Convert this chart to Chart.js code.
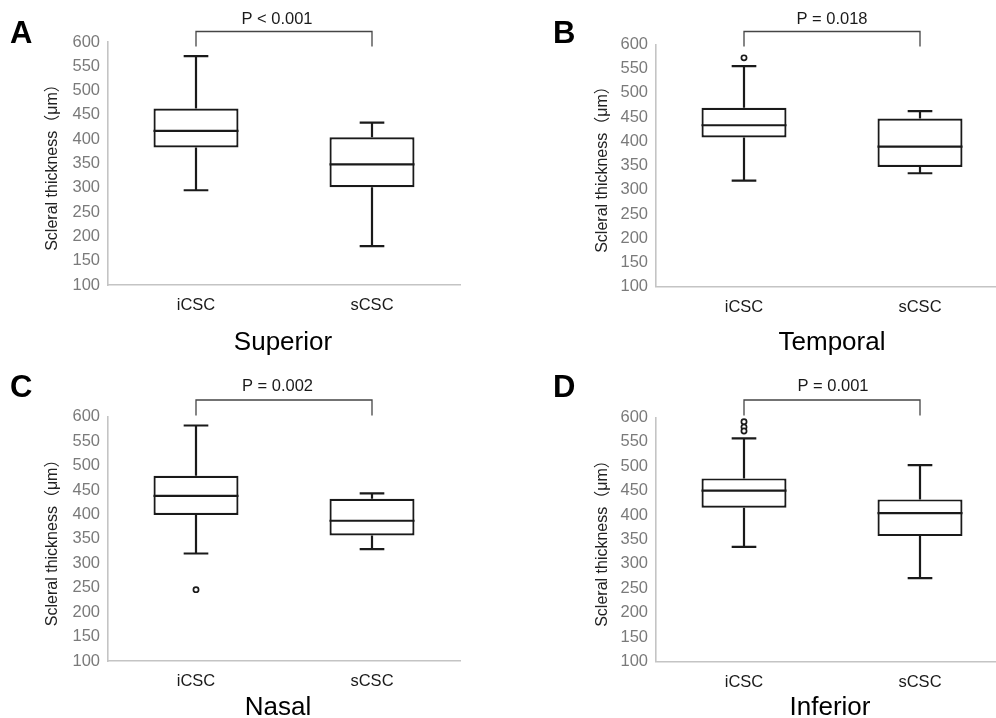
<!DOCTYPE html>
<html>
<head>
<meta charset="utf-8">
<script src="https://cdn.jsdelivr.net/npm/chart.js@4.4.1/dist/chart.umd.min.js"></script>
<style>
  html, body { margin: 0; padding: 0; background: #fff; overflow: hidden; }
  #page { position: relative; width: 996px; height: 718px; overflow: hidden; }
  .panel { position: absolute; }
</style>
</head>
<body>
<div id="page">
  <canvas class="panel" id="pA" width="498" height="370" style="left:0;top:0"></canvas>
  <canvas class="panel" id="pB" width="520" height="370" style="left:498px;top:0"></canvas>
  <canvas class="panel" id="pC" width="498" height="348" style="left:0;top:370px"></canvas>
  <canvas class="panel" id="pD" width="520" height="348" style="left:498px;top:370px"></canvas>
</div>
<script>
// data, one entry per panel: Superior, Temporal, Nasal, Inferior
const categories = ["iCSC", "sCSC"];
const panelTitles = ["Superior", "Temporal", "Nasal", "Inferior"];
const panelLetters = ["A", "B", "C", "D"];
const pLabels = ["P < 0.001", "P = 0.018", "P = 0.002", "P = 0.001"];
const minVals = [[295, 180], [319, 334], [320, 329], [335, 271]];
const q1Vals = [[383, 301], [408, 347], [399, 357], [415, 357]];
const medianVals = [[417, 348], [433, 389], [438, 387], [450, 404]];
const q3Vals = [[463, 404], [469, 447], [479, 432], [475, 432]];
const maxVals = [[571, 434], [555, 462], [582, 443], [557, 502]];
const outlierVals = [[[], []], [[572], []], [[246], []], [[591, 580, 572], []]];
const yMin = 100, yMax = 600, yStep = 50;
const yTitle = "Scleral thickness（μm）";

// layout of each canvas (canvas coordinates)
const layouts = [
  { id: "pA", w: 498, h: 370, area: [108, 42, 460, 285], brY: 31.5, brTick: 46.5, pX: 277, pY: 19, letter: [10, 42.5], titleX: 283, titleY: 350, yTitleX: 53 },
  { id: "pB", w: 520, h: 370, area: [158, 44.3, 510, 286.7], brY: 31.5, brTick: 46.5, pX: 334, pY: 19, letter: [55, 42.5], titleX: 334, titleY: 350, yTitleX: 105 },
  { id: "pC", w: 498, h: 348, area: [108, 46.7, 460, 291], brY: 30, brTick: 45.5, pX: 277.5, pY: 16, letter: [10, 26.5], titleX: 278, titleY: 345, yTitleX: 53 },
  { id: "pD", w: 520, h: 348, area: [158, 47.3, 510, 291.7], brY: 30, brTick: 45.5, pX: 335, pY: 16, letter: [55, 26.5], titleX: 332, titleY: 345, yTitleX: 105 }
];

const FONT = "'Liberation Sans', Arial, 'Noto Sans CJK JP', sans-serif";
const INK = "#1a1a1a";

const boxPlugin = {
  id: "boxparts",
  afterDatasetsDraw(chart, args, opts) {
    const p = opts.panel;
    const L = layouts[p];
    const ctx = chart.ctx;
    const x = chart.scales.x, y = chart.scales.y;
    const bars = chart.getDatasetMeta(0).data;
    ctx.save();
    ctx.strokeStyle = INK;
    ctx.lineWidth = 2.2;
    categories.forEach((c, i) => {
      const cx = x.getPixelForValue(i);
      const bw = bars[i].width;
      const cap = bw * 0.145;
      const yMinP = y.getPixelForValue(minVals[p][i]);
      const yQ1 = y.getPixelForValue(q1Vals[p][i]);
      const yMed = y.getPixelForValue(medianVals[p][i]);
      const yQ3 = y.getPixelForValue(q3Vals[p][i]);
      const yMaxP = y.getPixelForValue(maxVals[p][i]);
      ctx.beginPath();
      ctx.moveTo(cx, yQ3); ctx.lineTo(cx, yMaxP);
      ctx.moveTo(cx - cap, yMaxP); ctx.lineTo(cx + cap, yMaxP);
      ctx.moveTo(cx, yQ1); ctx.lineTo(cx, yMinP);
      ctx.moveTo(cx - cap, yMinP); ctx.lineTo(cx + cap, yMinP);
      ctx.moveTo(cx - bw / 2, yMed); ctx.lineTo(cx + bw / 2, yMed);
      ctx.stroke();
    });

    // significance bracket
    const x0 = x.getPixelForValue(0), x1 = x.getPixelForValue(1);
    ctx.strokeStyle = "#454545";
    ctx.lineWidth = 1.3;
    ctx.beginPath();
    ctx.moveTo(x0, L.brTick); ctx.lineTo(x0, L.brY); ctx.lineTo(x1, L.brY); ctx.lineTo(x1, L.brTick);
    ctx.stroke();

    ctx.fillStyle = "#1a1a1a";
    ctx.textAlign = "center";
    ctx.textBaseline = "middle";
    ctx.font = "16.5px " + FONT;
    ctx.fillText(pLabels[p], L.pX, L.pY);

    // panel letter
    ctx.textAlign = "left";
    ctx.textBaseline = "alphabetic";
    ctx.font = "bold 31px " + FONT;
    ctx.fillStyle = "#000";
    ctx.fillText(panelLetters[p], L.letter[0], L.letter[1]);

    // panel title
    ctx.textAlign = "center";
    ctx.font = "26px " + FONT;
    ctx.fillText(panelTitles[p], L.titleX, L.titleY);

    // y axis title
    ctx.save();
    ctx.translate(L.yTitleX, (chart.chartArea.top + chart.chartArea.bottom) / 2);
    ctx.rotate(-Math.PI / 2);
    ctx.textBaseline = "middle";
    ctx.font = "16px " + FONT;
    ctx.fillStyle = "#222";
    ctx.fillText(yTitle, 0, 0);
    ctx.restore();

    ctx.restore();
  }
};

layouts.forEach((L, p) => {
  const outlierPoints = [];
  categories.forEach((c, i) => {
    outlierVals[p][i].forEach(v => outlierPoints.push({ x: c, y: v }));
  });

  new Chart(document.getElementById(L.id), {
    type: "bar",
    data: {
      labels: categories,
      datasets: [
        {
          data: categories.map((c, i) => [q1Vals[p][i], q3Vals[p][i]]),
          backgroundColor: "#fff",
          borderColor: INK,
          borderWidth: 2.2,
          borderSkipped: false,
          barPercentage: 0.483,
          categoryPercentage: 1
        },
        {
          type: "scatter",
          data: outlierPoints,
          pointRadius: 2.6,
          pointBorderWidth: 1.7,
          pointBackgroundColor: "#fff",
          pointBorderColor: INK
        }
      ]
    },
    options: {
      responsive: false,
      animation: false,
      layout: { padding: { top: L.area[1], right: L.w - L.area[2], left: 0, bottom: 0 } },
      plugins: {
        legend: { display: false },
        tooltip: { enabled: false },
        boxparts: { panel: p }
      },
      scales: {
        x: {
          type: "category",
          grid: { display: false, drawTicks: false },
          border: { display: true, color: "#c4c4c4", width: 1.6 },
          ticks: { color: "#1a1a1a", font: { family: FONT, size: 16.5 }, padding: 11 },
          afterFit(s) { s.height = L.h - L.area[3]; }
        },
        y: {
          min: yMin,
          max: yMax,
          grid: { display: false, drawTicks: false },
          border: { display: true, color: "#c4c4c4", width: 1.6 },
          ticks: { stepSize: yStep, color: "#7a7a7a", font: { family: FONT, size: 16.5 }, padding: 8 },
          afterFit(s) { s.width = L.area[0]; }
        }
      }
    },
    plugins: [boxPlugin]
  });
});
</script>
</body>
</html>
